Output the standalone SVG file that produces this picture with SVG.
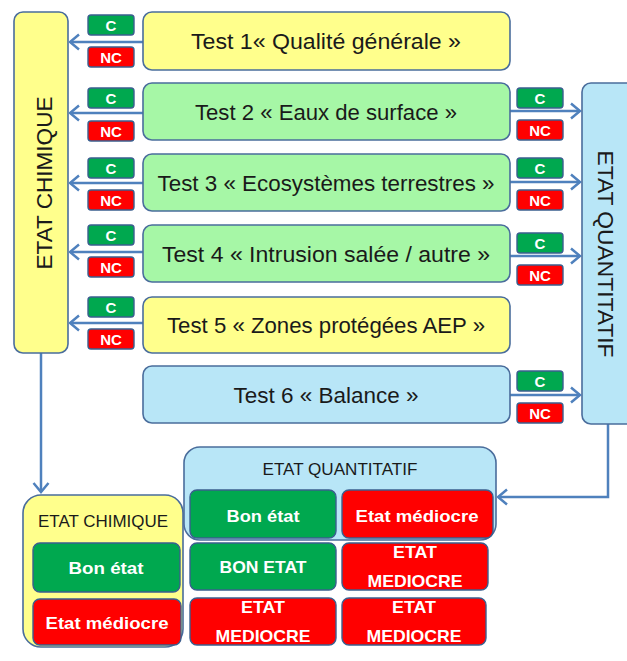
<svg xmlns="http://www.w3.org/2000/svg" width="627" height="661" viewBox="0 0 627 661">
<style>
text{font-family:"Liberation Sans",Arial,sans-serif;}
.box{stroke:#4a6d9c;stroke-width:1.6;}
.yel{fill:#ffff8c;}
.grn{fill:#a6f7a6;}
.blu{fill:#b8e6f7;}
.tt{font-size:22.5px;fill:#1a1a1a;text-anchor:middle;}
.c{fill:#00a84f;stroke:#3a5f8f;stroke-width:1.4;}
.nc{fill:#ff0000;stroke:#3a5f8f;stroke-width:1.4;}
.bt{font-size:15px;font-weight:bold;fill:#fff;text-anchor:middle;}
.g2{fill:#00a84f;stroke:#3a5f8f;stroke-width:1.4;}
.r2{fill:#ff0000;stroke:#3a5f8f;stroke-width:1.4;}
.wt{font-size:17px;font-weight:bold;fill:#fff;text-anchor:middle;}
.lbl{font-size:17px;fill:#1a1a1a;text-anchor:middle;}
.arr{fill:none;stroke:#4f81bd;stroke-width:2.5;marker-end:url(#ah);}
</style>
<defs>
<marker id="ah" viewBox="0 0 12 18" refX="10.5" refY="9" markerWidth="12" markerHeight="18" orient="auto" markerUnits="userSpaceOnUse">
<path d="M1.5,1.5 L10.5,9 L1.5,16.5" fill="none" stroke="#4f81bd" stroke-width="2.5"/>
</marker>
</defs>

<g id="connectors">
<line class="arr" x1="143" y1="42" x2="70" y2="42"/>
<line class="arr" x1="143" y1="113" x2="70" y2="113"/>
<line class="arr" x1="143" y1="183" x2="70" y2="183"/>
<line class="arr" x1="143" y1="252" x2="70" y2="252"/>
<line class="arr" x1="143" y1="323" x2="70" y2="323"/>
<line class="arr" x1="510" y1="111" x2="580" y2="111"/>
<line class="arr" x1="510" y1="182" x2="580" y2="182"/>
<line class="arr" x1="510" y1="256" x2="580" y2="256"/>
<line class="arr" x1="510" y1="395" x2="580" y2="395"/>
<line class="arr" x1="41" y1="353" x2="41" y2="492"/>
<path class="arr" d="M608,424 V497 H498"/>
</g>

<g id="etat-chimique">
<rect class="box yel" x="14" y="12" width="54" height="341" rx="9"/>
<text class="tt" transform="translate(52,183) rotate(-90)" textLength="173" lengthAdjust="spacingAndGlyphs">ETAT CHIMIQUE</text>
</g>

<g id="etat-quantitatif">
<rect class="box blu" x="582" y="83" width="62" height="341" rx="9"/>
<text class="tt" transform="translate(598,254) rotate(90)" textLength="207" lengthAdjust="spacingAndGlyphs">ETAT QUANTITATIF</text>
</g>

<g id="test1">
<rect class="box yel" x="143" y="12" width="367" height="58" rx="9"/>
<text class="tt" x="326" y="49" textLength="270" lengthAdjust="spacingAndGlyphs">Test 1« Qualité générale »</text>
</g>
<g id="test2">
<rect class="box grn" x="143" y="83" width="367" height="57" rx="9"/>
<text class="tt" x="326" y="120" textLength="262" lengthAdjust="spacingAndGlyphs">Test 2 « Eaux de surface »</text>
</g>
<g id="test3">
<rect class="box grn" x="143" y="154" width="367" height="57" rx="9"/>
<text class="tt" x="326" y="190.5" textLength="337" lengthAdjust="spacingAndGlyphs">Test 3 « Ecosystèmes terrestres »</text>
</g>
<g id="test4">
<rect class="box grn" x="143" y="225" width="367" height="57" rx="9"/>
<text class="tt" x="326" y="261.5" textLength="328" lengthAdjust="spacingAndGlyphs">Test 4 « Intrusion salée / autre »</text>
</g>
<g id="test5">
<rect class="box yel" x="143" y="297" width="367" height="56" rx="9"/>
<text class="tt" x="326" y="333" textLength="318" lengthAdjust="spacingAndGlyphs">Test 5 « Zones protégées AEP »</text>
</g>
<g id="test6">
<rect class="box blu" x="143" y="366" width="367" height="57" rx="9"/>
<text class="tt" x="326" y="402.5" textLength="185" lengthAdjust="spacingAndGlyphs">Test 6 « Balance »</text>
</g>

<g id="badges-left">
<rect class="c" x="88" y="15" width="46" height="20" rx="3"/><text class="bt" x="111" y="30.5">C</text>
<rect class="nc" x="88" y="47" width="46" height="20" rx="3"/><text class="bt" x="111" y="62.5">NC</text>
<rect class="c" x="88" y="88" width="46" height="20" rx="3"/><text class="bt" x="111" y="103.5">C</text>
<rect class="nc" x="88" y="121" width="46" height="20" rx="3"/><text class="bt" x="111" y="136.5">NC</text>
<rect class="c" x="88" y="158" width="46" height="20" rx="3"/><text class="bt" x="111" y="173.5">C</text>
<rect class="nc" x="88" y="190" width="46" height="20" rx="3"/><text class="bt" x="111" y="205.5">NC</text>
<rect class="c" x="88" y="225" width="46" height="20" rx="3"/><text class="bt" x="111" y="240.5">C</text>
<rect class="nc" x="88" y="257" width="46" height="20" rx="3"/><text class="bt" x="111" y="272.5">NC</text>
<rect class="c" x="88" y="297" width="46" height="20" rx="3"/><text class="bt" x="111" y="312.5">C</text>
<rect class="nc" x="88" y="329" width="46" height="20" rx="3"/><text class="bt" x="111" y="344.5">NC</text>
</g>

<g id="badges-right">
<rect class="c" x="517" y="88" width="46" height="20" rx="3"/><text class="bt" x="540" y="103.5">C</text>
<rect class="nc" x="517" y="120" width="46" height="20" rx="3"/><text class="bt" x="540" y="135.5">NC</text>
<rect class="c" x="517" y="158" width="46" height="20" rx="3"/><text class="bt" x="540" y="173.5">C</text>
<rect class="nc" x="517" y="190" width="46" height="20" rx="3"/><text class="bt" x="540" y="205.5">NC</text>
<rect class="c" x="517" y="233" width="46" height="20" rx="3"/><text class="bt" x="540" y="248.5">C</text>
<rect class="nc" x="517" y="265" width="46" height="20" rx="3"/><text class="bt" x="540" y="280.5">NC</text>
<rect class="c" x="517" y="371" width="46" height="20" rx="3"/><text class="bt" x="540" y="386.5">C</text>
<rect class="nc" x="517" y="403" width="46" height="20" rx="3"/><text class="bt" x="540" y="418.5">NC</text>
</g>

<g id="result-chimique">
<rect class="box yel" x="23" y="495" width="160" height="152" rx="18"/>
<text class="lbl" x="103" y="527" textLength="130" lengthAdjust="spacingAndGlyphs">ETAT CHIMIQUE</text>
<rect class="g2" x="33" y="543" width="147" height="49" rx="7"/>
<text class="wt" x="106" y="573.5" textLength="75" lengthAdjust="spacingAndGlyphs">Bon état</text>
<rect class="r2" x="33" y="599" width="148" height="46" rx="7"/>
<text class="wt" x="107" y="629" textLength="123" lengthAdjust="spacingAndGlyphs">Etat médiocre</text>
</g>

<g id="result-quantitatif">
<rect class="box blu" x="184" y="447" width="312" height="93" rx="16"/>
<text class="lbl" x="340" y="475" textLength="155" lengthAdjust="spacingAndGlyphs">ETAT QUANTITATIF</text>
<rect class="g2" x="190" y="490" width="146" height="48" rx="7"/>
<text class="wt" x="263" y="522" textLength="73" lengthAdjust="spacingAndGlyphs">Bon état</text>
<rect class="r2" x="342" y="490" width="151" height="48" rx="7"/>
<text class="wt" x="417" y="522" textLength="123" lengthAdjust="spacingAndGlyphs">Etat médiocre</text>
</g>

<g id="matrix">
<rect class="g2" x="190" y="543" width="146" height="47" rx="7"/>
<text class="wt" x="263" y="573" textLength="87" lengthAdjust="spacingAndGlyphs">BON ETAT</text>
<rect class="r2" x="342" y="543" width="146" height="47" rx="7"/>
<text class="wt" x="415" y="558" textLength="44" lengthAdjust="spacingAndGlyphs">ETAT</text>
<text class="wt" x="415" y="587" textLength="95" lengthAdjust="spacingAndGlyphs">MEDIOCRE</text>
<rect class="r2" x="190" y="598" width="146" height="47" rx="7"/>
<text class="wt" x="263" y="613" textLength="44" lengthAdjust="spacingAndGlyphs">ETAT</text>
<text class="wt" x="263" y="642" textLength="95" lengthAdjust="spacingAndGlyphs">MEDIOCRE</text>
<rect class="r2" x="342" y="598" width="144" height="47" rx="7"/>
<text class="wt" x="414" y="613" textLength="44" lengthAdjust="spacingAndGlyphs">ETAT</text>
<text class="wt" x="414" y="642" textLength="95" lengthAdjust="spacingAndGlyphs">MEDIOCRE</text>
</g>
</svg>
